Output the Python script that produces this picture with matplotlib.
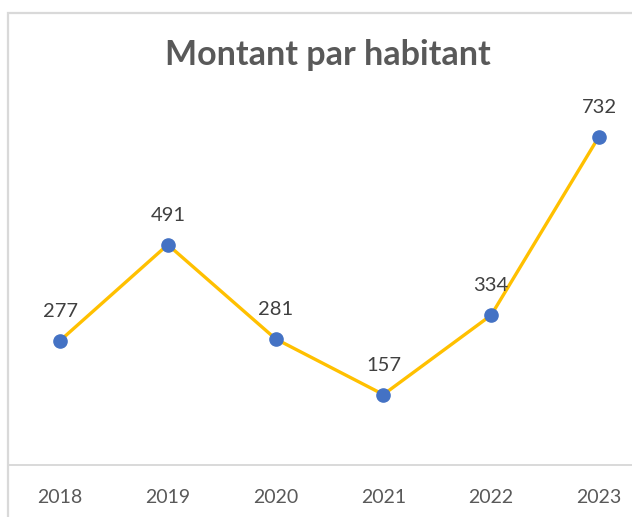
import matplotlib

matplotlib.use("Agg")
import matplotlib.pyplot as plt
from matplotlib.patches import Rectangle

YEARS = ["2018", "2019", "2020", "2021", "2022", "2023"]
AMOUNTS = [277, 491, 281, 157, 334, 732]

LINE_COLOR = "#FFC000"
MARKER_COLOR = "#4472C4"
TEXT_COLOR = "#595959"
BORDER_COLOR = "#D9D9D9"

plt.rcParams["font.family"] = ["Lato", "DejaVu Sans"]

W, H = 632, 517
fig = plt.figure(figsize=(W / 100, H / 100), dpi=100)

# chart frame (right and bottom edges fall outside the crop)
fig.patches.append(
    Rectangle((8 / W, -0.1), 1.2, (H - 13) / H + 0.1, transform=fig.transFigure,
              fill=False, edgecolor=BORDER_COLOR, linewidth=1.6)
)

ax = fig.add_axes([8 / W, (H - 465) / H, 1 - 8 / W, (465 - 106) / H])
x = list(range(len(YEARS)))
ax.plot(x, AMOUNTS, color=LINE_COLOR, linewidth=2.4, zorder=2)
ax.plot(x, AMOUNTS, linestyle="none", marker="o", markersize=9.5,
        markerfacecolor=MARKER_COLOR, markeredgecolor=MARKER_COLOR, zorder=3)

for xi, v in zip(x, AMOUNTS):
    ax.annotate(str(v), (xi, v), xytext=(0, 21), textcoords="offset points",
                ha="center", va="center", fontsize=14.5, color="#404040")

ax.set_xlim((8 - 60) / 107.8, (632 - 60) / 107.8)
ax.set_ylim(0, 800)
ax.set_xticks(x)
ax.set_xticklabels(YEARS)
ax.set_yticks([])
for side in ("top", "left", "right"):
    ax.spines[side].set_visible(False)
ax.spines["bottom"].set_color(BORDER_COLOR)
ax.spines["bottom"].set_linewidth(1.4)
ax.tick_params(axis="x", length=0, pad=17, labelsize=14, labelcolor=TEXT_COLOR)

fig.text(328 / W, (H - 55) / H, "Montant par habitant", ha="center", va="center",
         fontsize=24.5, fontweight="bold", color=TEXT_COLOR)

fig.savefig("out.png", dpi=100)
